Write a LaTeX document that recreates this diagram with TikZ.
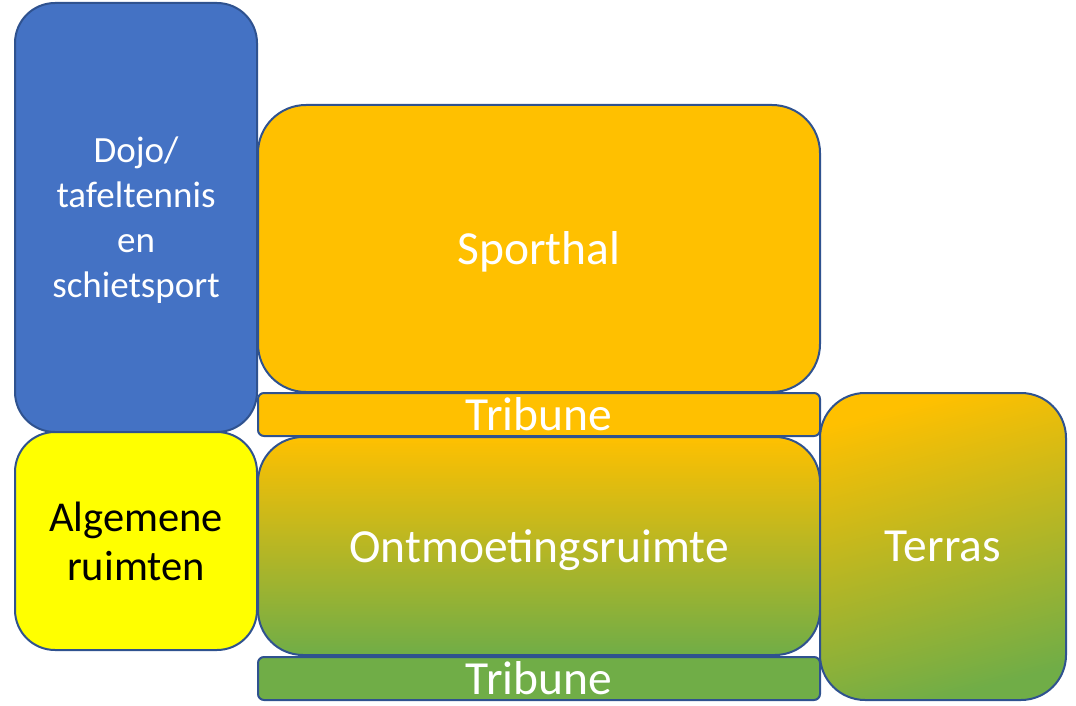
\documentclass[tikz,border=0pt]{standalone}
\usepackage{fontspec}
\setmainfont{Carlito}
\usepackage{tikz}
\definecolor{rand}{HTML}{2F528F}
\definecolor{blauw}{HTML}{4472C4}
\definecolor{oranje}{HTML}{FFC000}
\definecolor{groen}{HTML}{70AD47}
\definecolor{geel}{HTML}{FFFF00}
\begin{document}
\begin{tikzpicture}[x=1pt,y=-1pt,
            ruimte/.style={draw=rand, line width=2pt, rounded corners=#1, inner sep=0pt, align=center, text=white, text depth=0pt},
            groot/.style={font=\fontsize{47.5}{52}\selectfont},
            middel/.style={font=\fontsize{37}{45}\selectfont}]
            \useasboundingbox (0,0) rectangle (1076,706);
            \node [ruimte=40pt, fill=blauw, minimum width=242pt, minimum height=429pt, middel] (dojo) at (136,217.5) {Dojo/\\tafeltennis\\en\\schietsport};
            \node [ruimte=48pt, fill=oranje, minimum width=562pt, minimum height=287pt, groot] (sporthal) at (539,248.5) {Sporthal};
            \node [ruimte=6pt, fill=oranje, minimum width=562pt, minimum height=43pt, groot] (tribune1) at (539,414.5) {Tribune};
            \node [ruimte=40pt, fill=geel, text=black, minimum width=242pt, minimum height=218pt, font=\fontsize{42.5}{49}\selectfont] (algemeen) at (136,541) {Algemene\\ruimten};
            \node [ruimte=45pt, top color=oranje, bottom color=groen, minimum width=562pt, minimum height=218pt, groot] (ontmoeting) at (539,546) {Ontmoetingsruimte};
            \node [ruimte=6pt, fill=groen, minimum width=562pt, minimum height=43pt, groot] (tribune2) at (539,678.5) {Tribune};
            \node [ruimte=45pt, top color=oranje, bottom color=groen, shading angle=15, minimum width=246pt, minimum height=307pt, groot] (terras) at (943,546.5) {Terras};
            \end{tikzpicture}
\end{document}
